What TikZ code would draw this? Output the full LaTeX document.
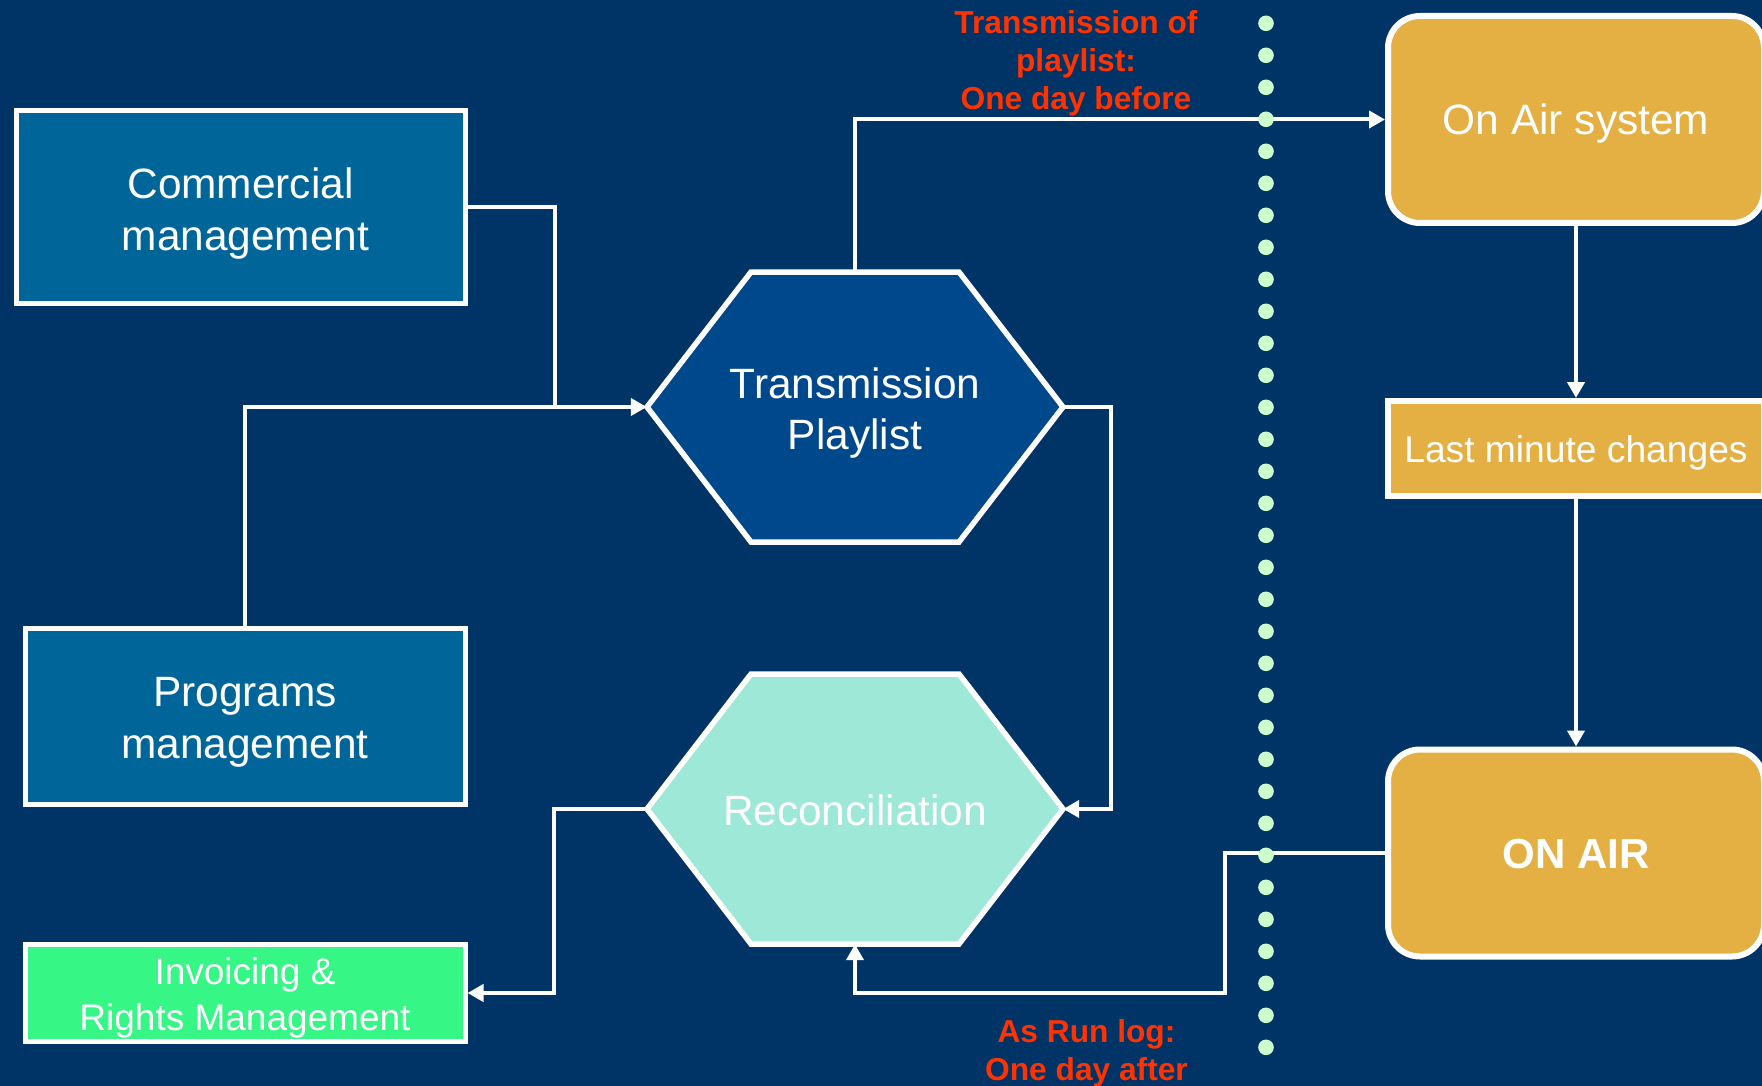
\documentclass[tikz,border=0pt]{standalone}
\usepackage{fontspec}
\setmainfont{Liberation Sans}
\usetikzlibrary{arrows.meta,calc}
\definecolor{bg}{HTML}{003366}
\definecolor{boxblue}{HTML}{006699}
\definecolor{tpblue}{HTML}{00488C}
\definecolor{mint}{HTML}{9EE8D8}
\definecolor{invgreen}{HTML}{36F686}
\definecolor{gold}{HTML}{E5B043}
\definecolor{redlab}{HTML}{FF3300}
\definecolor{dotc}{HTML}{CCFFCC}
\newcommand\dn[2]{\raisebox{-#1pt}[\height][\depth]{#2}}
\begin{document}
\begin{tikzpicture}[x=1pt,y=-1pt,
  rbox/.style={draw=white, line width=5pt, inner sep=0pt, align=center, text=white,
    font=\fontsize{42.4}{51.7}\selectfont},
  gbox/.style={draw=white, line width=6pt, inner sep=0pt, align=center, text=white,
    fill=gold, rounded corners=32pt, minimum width=376pt, minimum height=207pt,
    font=\fontsize{42.4}{51.7}\selectfont},
  hexs/.style={draw=white, line width=5.5pt, line join=miter},
  hexlabel/.style={inner sep=0pt, minimum width=416pt, minimum height=270pt, align=center,
    text=white, font=\fontsize{42.4}{50.5}\selectfont},
  redlbl/.style={text=redlab, align=center, inner sep=0pt,
    font=\fontsize{31.7}{38.3}\selectfont\bfseries},
  conn/.style={draw=white, line width=4pt},
  arr/.style={conn, -{Triangle[length=16pt,width=17pt]}}]
\fill[bg] (0,0) rectangle (1762,1086);
\useasboundingbox (0,0) rectangle (1762,1086);

% hexagons
\coordinate (tpc) at (855,407);
\coordinate (rcc) at (855,809);
\filldraw[hexs, fill=tpblue] ($(tpc)+(-208,0)$) -- ($(tpc)+(-104,-135)$) -- ($(tpc)+(104,-135)$)
  -- ($(tpc)+(208,0)$) -- ($(tpc)+(104,135)$) -- ($(tpc)+(-104,135)$) -- cycle;
\filldraw[hexs, fill=mint] ($(rcc)+(-208,0)$) -- ($(rcc)+(-104,-135)$) -- ($(rcc)+(104,-135)$)
  -- ($(rcc)+(208,0)$) -- ($(rcc)+(104,135)$) -- ($(rcc)+(-104,135)$) -- cycle;
\node[hexlabel] (tp) at (tpc) {\dn{6}{Transmission}\\\dn{6}{Playlist}};
\node[hexlabel] (rec) at (rcc) {\dn{1}{Reconciliation}};

% left boxes
\node[rbox, fill=boxblue, minimum width=449pt, minimum height=193pt] (cm) at (240.5,206.8)
  {\dn{6.5}{Commercial}\\\dn{6.5}{\hspace{10pt}management}};
\node[rbox, fill=boxblue, minimum width=440pt, minimum height=176pt] (pm) at (245,716)
  {\dn{6}{Programs}\\\dn{6}{management}};
\node[rbox, fill=invgreen, minimum width=440pt, minimum height=97pt,
  font=\fontsize{37}{46}\selectfont] (inv) at (245,993) {\dn{4.5}{Invoicing \&}\\\dn{4.5}{Rights Management}};

% right boxes
\node[gbox] (oas) at (1576,119.5) {\dn{4.5}{On Air system}};
\node[rbox, fill=gold, line width=6pt, minimum width=376pt, minimum height=95pt,
  font=\fontsize{37.2}{45}\selectfont] (lmc) at (1576,448.5) {\dn{4.5}{Last minute changes}};
\node[gbox, font=\fontsize{42}{50}\selectfont\bfseries] (onair) at (1576,853) {\dn{1}{ON AIR}};

% labels
\node[redlbl] (lab1) at (1076,63.5) {Transmission of\\playlist:\\One day before};
\node[redlbl] (lab2) at (1086.5,1053.5) {As Run log:\\One day after};

% connectors
\coordinate (j1) at (555,407);
\coordinate (k1) at (1225,993);
\draw[conn] (cm.east) -| (j1);
\draw[arr] (pm.north) |- (tp.west);
\draw[arr] (tp.north) |- (oas.west);
\draw[arr] (tp.east) -- ++(48,0) |- (rec.east);
\draw[arr] (rec.west) -- ++(-93,0) |- (inv.east);
\draw[arr] (oas.south) -- (lmc.north);
\draw[arr] (lmc.south) -- (onair.north);
\draw[arr] (onair.west) -| (k1) -| (rec.south);

% dotted divider
\foreach \i in {0,...,32}
  \fill[dotc] (1266,23.3+32*\i) circle (7.8pt);
\end{tikzpicture}
\end{document}
